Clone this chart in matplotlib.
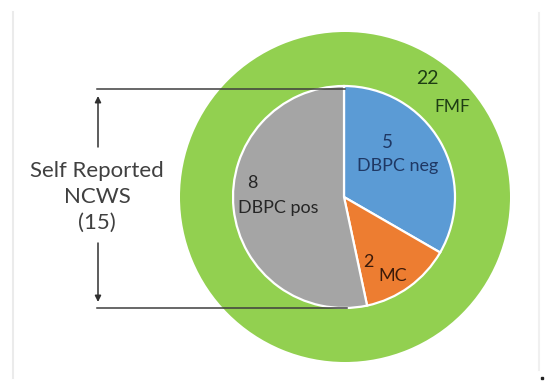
import matplotlib
matplotlib.use("Agg")
import matplotlib.pyplot as plt

# Data
inner_labels = ["DBPC neg", "MC", "DBPC pos"]
inner_values = [5, 2, 8]
inner_colors = ["#5b9bd5", "#ed7d31", "#a5a5a5"]
outer_label = "FMF"
outer_value = 22
group_label = "Self Reported\nNCWS\n(15)"

W, H = 550, 386
fig = plt.figure(figsize=(W / 100, H / 100), dpi=100)
ax = fig.add_axes([0, 0, 1, 1])

FONT = "Lato"

def Y(py):
    return H - py

cx, cy = 344, Y(197)

# outer FMF circle
ax.pie([outer_value], colors=["#92d050"], radius=165, center=(cx + 1, cy),
       startangle=90, wedgeprops=dict(linewidth=0), frame=True)
# inner pie
ax.pie(inner_values, colors=inner_colors, radius=111, center=(cx, cy),
       startangle=90, counterclock=False,
       wedgeprops=dict(edgecolor="white", linewidth=1.6), frame=True)
ax.set_xlim(0, W)
ax.set_ylim(0, H)
ax.set_aspect("equal")
ax.axis("off")

# labels
ax.text(387, Y(142), str(inner_values[0]), ha="center", va="center",
        fontsize=13.5, color="#1f3864", family=FONT)
ax.text(398, Y(166), inner_labels[0], ha="center", va="center",
        fontsize=13, color="#1f3864", family=FONT)
ax.text(368, Y(262), str(inner_values[1]), ha="center", va="center",
        fontsize=13, color="#3a1a0a", family=FONT)
ax.text(393, Y(276), inner_labels[1], ha="center", va="center",
        fontsize=13, color="#3a1a0a", family=FONT)
ax.text(252, Y(183), str(inner_values[2]), ha="center", va="center",
        fontsize=13, color="#262626", family=FONT)
ax.text(278, Y(208), inner_labels[2], ha="center", va="center",
        fontsize=13, color="#262626", family=FONT)
ax.text(427, Y(79), str(outer_value), ha="center", va="center",
        fontsize=14, color="#1e3d14", family=FONT)
ax.text(452, Y(107), outer_label, ha="center", va="center",
        fontsize=12.5, color="#1e3d14", family=FONT)

# bracket lines
lc = "#3f3f3f"
ax.plot([97, 345], [Y(89), Y(89)], color=lc, lw=1.1)
ax.plot([97, 347], [Y(308), Y(308)], color=lc, lw=1.1)
ax.annotate("", xy=(98, Y(96)), xytext=(98, Y(147)),
            arrowprops=dict(arrowstyle="-|>", color="#303030", lw=1.1,
                            mutation_scale=9, shrinkA=0, shrinkB=0))
ax.annotate("", xy=(98, Y(302)), xytext=(98, Y(243)),
            arrowprops=dict(arrowstyle="-|>", color="#303030", lw=1.1,
                            mutation_scale=9, shrinkA=0, shrinkB=0))
ax.text(97, Y(197), group_label, ha="center", va="center",
        fontsize=16, color="#404040", family=FONT, linespacing=1.38)

# faint frame lines and dot
ax.plot([12.5, 12.5], [Y(12), Y(378)], color="#ebebeb", lw=1.5)
ax.plot([539, 539], [Y(13), Y(370)], color="#f0f0f0", lw=1.5)
ax.plot([542], [Y(378)], marker="s", ms=2, color="#222222")

fig.savefig("out.png", dpi=100)
